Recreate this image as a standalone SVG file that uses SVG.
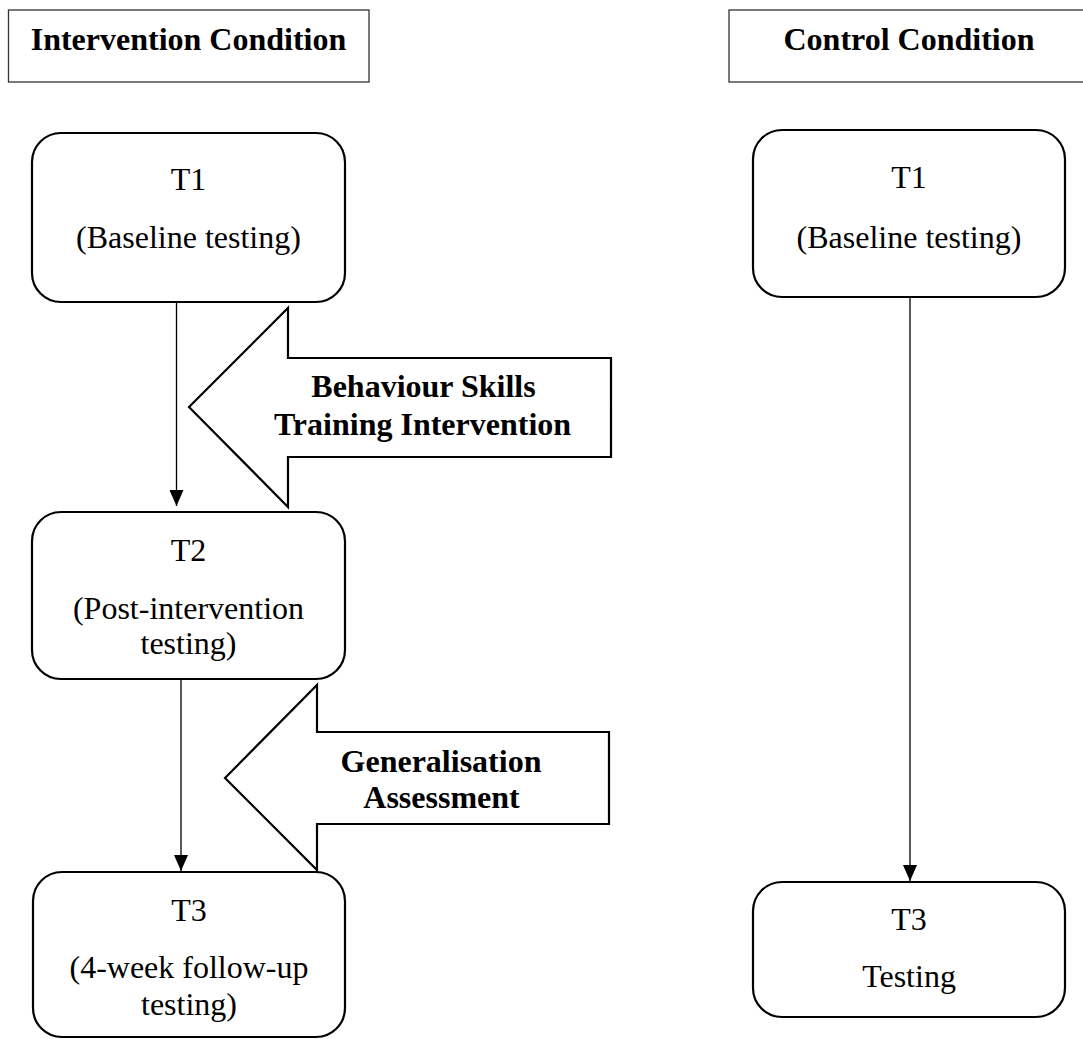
<svg xmlns="http://www.w3.org/2000/svg" width="1083" height="1039" viewBox="0 0 1083 1039">
<defs>
<style>
.hdr{fill:#fff;stroke:#333;stroke-width:1.3}
.node{fill:#fff;stroke:#000;stroke-width:2.2}
.big{fill:#fff;stroke:#000;stroke-width:2.2;stroke-linejoin:miter}
.t{font-family:"Liberation Serif","Times New Roman",serif;font-size:32px;fill:#000;text-anchor:middle}
.b{font-weight:bold}
.edge{stroke:#000;stroke-width:1.3;fill:none}
</style>
<marker id="ah" markerWidth="16" markerHeight="14" refX="16" refY="7" orient="auto" markerUnits="userSpaceOnUse" viewBox="0 0 16 14">
<path d="M0,0 L16,7 L0,14 Z" fill="#000"/>
</marker>
</defs>
<rect width="1083" height="1039" fill="#fff"/>

<g id="hdr-intervention">
<rect class="hdr" x="8.5" y="10" width="360.5" height="72"/>
<text class="t b" x="188.5" y="50">Intervention Condition</text>
</g>
<g id="hdr-control">
<rect class="hdr" x="729" y="10" width="360" height="72"/>
<text class="t b" x="909" y="50">Control Condition</text>
</g>

<g id="i-t1">
<rect class="node" x="32" y="133" width="313" height="169" rx="29"/>
<text class="t" x="188.5" y="190">T1</text>
<text class="t" x="188.5" y="248">(Baseline testing)</text>
</g>
<g id="i-t2">
<rect class="node" x="32" y="512" width="313" height="167" rx="29"/>
<text class="t" x="188.5" y="561">T2</text>
<text class="t" x="188.5" y="619">(Post-intervention</text>
<text class="t" x="188.5" y="654">testing)</text>
</g>
<g id="i-t3">
<rect class="node" x="33" y="872" width="312" height="165" rx="29"/>
<text class="t" x="189" y="921">T3</text>
<text class="t" x="189" y="978">(4-week follow-up</text>
<text class="t" x="189" y="1015">testing)</text>
</g>

<g id="bst-arrow">
<polygon class="big" points="189,407 288,308 288,358 611,358 611,457 288,457 288,507"/>
<text class="t b" x="423.5" y="397">Behaviour Skills</text>
<text class="t b" x="422.5" y="435">Training Intervention</text>
</g>
<g id="gen-arrow">
<polygon class="big" points="225,778 317,685 317,732 609,732 609,824 317,824 317,870"/>
<text class="t b" x="441" y="772">Generalisation</text>
<text class="t b" x="441.5" y="808">Assessment</text>
</g>

<g id="c-t1">
<rect class="node" x="753" y="130" width="312" height="167" rx="29"/>
<text class="t" x="909" y="188">T1</text>
<text class="t" x="909" y="248">(Baseline testing)</text>
</g>
<g id="c-t3">
<rect class="node" x="753" y="882" width="312" height="135" rx="29"/>
<text class="t" x="909" y="930">T3</text>
<text class="t" x="909" y="987">Testing</text>
</g>

<g id="connectors">
<line class="edge" x1="176.5" y1="302" x2="176.5" y2="506" marker-end="url(#ah)"/>
<line class="edge" x1="181" y1="679" x2="181" y2="871" marker-end="url(#ah)"/>
<line class="edge" x1="910" y1="297" x2="910" y2="881" marker-end="url(#ah)"/>
</g>
</svg>
